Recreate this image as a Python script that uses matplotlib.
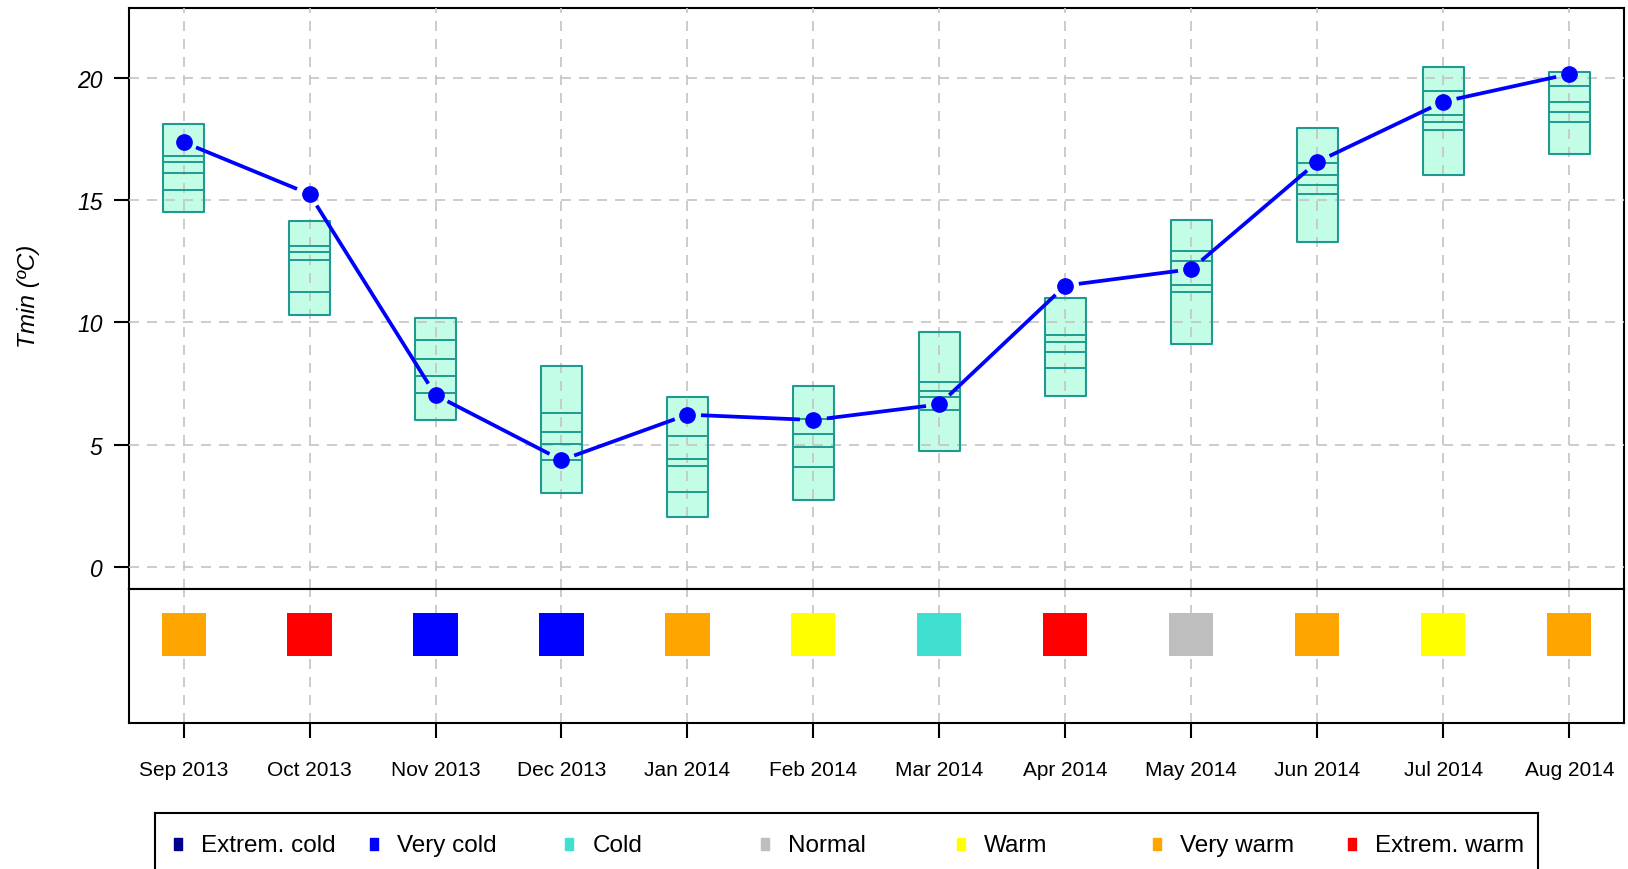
"""
Monthly Tmin with climatological boxes and category strip.
"""
import matplotlib
matplotlib.use("Agg")
import matplotlib.pyplot as plt
from matplotlib.patches import Rectangle
import numpy as np

# --- Data ---
months = ["Sep 2013", "Oct 2013", "Nov 2013", "Dec 2013", "Jan 2014", "Feb 2014",
          "Mar 2014", "Apr 2014", "May 2014", "Jun 2014", "Jul 2014", "Aug 2014"]
tmin = [17.37, 15.25, 7.03, 4.37, 6.23, 6.01, 6.65, 11.51, 12.18, 16.57, 19.03, 20.16]
box_low = [14.50, 10.30, 6.02, 3.01, 2.05, 2.75, 4.75, 7.00, 9.12, 13.30, 16.03, 16.89]
box_high = [18.11, 14.16, 10.18, 8.20, 6.94, 7.41, 9.62, 11.00, 14.20, 17.94, 20.43, 20.25]
q1 = [15.41, 11.26, 7.11, 4.38, 3.05, 4.07, 6.42, 8.12, 11.26, 15.25, 17.87, 18.18]
q2 = [16.11, 12.57, 7.80, 5.03, 4.14, 4.89, 6.94, 8.78, 11.54, 15.62, 18.21, 18.59]
q3 = [16.55, 12.87, 8.50, 5.50, 4.41, 5.44, 7.21, 9.19, 12.52, 16.03, 18.48, 19.03]
q4 = [16.82, 13.14, 9.29, 6.28, 5.34, 6.05, 7.55, 9.48, 12.91, 16.52, 19.45, 19.68]
category = ["Very warm", "Extrem. warm", "Very cold", "Very cold", "Very warm", "Warm",
            "Cold", "Extrem. warm", "Normal", "Very warm", "Warm", "Very warm"]

cat_names = ["Extrem. cold", "Very cold", "Cold", "Normal", "Warm", "Very warm", "Extrem. warm"]
cat_colors = ["#00008B", "#0000FF", "#40E0D0", "#BEBEBE", "#FFFF00", "#FFA500", "#FF0000"]
cat_map = dict(zip(cat_names, cat_colors))

FILL = "#c4fde6"
EDGE = "#1f9a90"
BLUE = "#0000FF"
GRID = "#c4c4c4"
W = 1628
H = 870

plt.rcParams.update({
    "font.family": ["Liberation Sans", "DejaVu Sans"],
    "font.size": 15,
})

fig = plt.figure(figsize=(W / 100, H / 100), dpi=100)
left = 129 / W
width = (1624 - 129) / W
ax = fig.add_axes([left, 1 - 589.5 / H, width, (589.5 - 8.5) / H])
ax2 = fig.add_axes([left, 1 - 723.7 / H, width, (723.7 - 589.5) / H])

x = np.arange(len(months))
xlim = (-0.433, 11.434)

# ============================================================
# Upper panel: boxes, quantile lines, Tmin line
# ============================================================
hw = 0.165
for i in x:
    ax.add_patch(Rectangle((i - hw, box_low[i]), 2 * hw, box_high[i] - box_low[i],
                           facecolor=FILL, edgecolor="none", zorder=1))
    ax.add_patch(Rectangle((i - hw, box_low[i]), 2 * hw, box_high[i] - box_low[i],
                           facecolor="none", edgecolor=EDGE, linewidth=1.5,
                           joinstyle="round", zorder=3))
for q in (q1, q2, q3, q4):
    ax.hlines(q, x - hw, x + hw, color=EDGE, linewidth=1.4, zorder=3)

ax.set_xlim(*xlim)
ax.set_ylim(-0.88, 22.88)
ax.set_yticks([0, 5, 10, 15, 20])
ax.set_yticklabels(["0", "5", "10", "15", "20"], fontstyle="italic", fontsize=16.5)
ax.set_xticks(x)
ax.tick_params(axis="x", length=0, labelbottom=False)
ax.tick_params(axis="y", length=11, width=1.5, pad=8)
ax.set_axisbelow(False)
ax.grid(True, color=GRID, linestyle=(0, (6, 4.8)), linewidth=1.2)
for s in ax.spines.values():
    s.set_linewidth(1.5)

# line with gaps around the points (type "b")
fig.canvas.draw()
pts = ax.transData.transform(np.column_stack([x, tmin]))
gap = 13.5
inv = ax.transData.inverted()
for a, b in zip(pts[:-1], pts[1:]):
    d = b - a
    u = d / np.hypot(*d)
    seg = inv.transform(np.array([a + u * gap, b - u * gap]))
    ax.plot(seg[:, 0], seg[:, 1], color=BLUE, linewidth=2.7, solid_capstyle="butt", zorder=4)
ax.plot(x, tmin, "o", color=BLUE, markersize=11, zorder=5)

fig.text(29 / W, 1 - 296 / H, "Tmin (ºC)", rotation=90, fontstyle="italic",
         fontsize=17.5, ha="center", va="center")

# ============================================================
# Lower panel: category squares
# ============================================================
sw = 0.175
for i in x:
    ax2.add_patch(Rectangle((i - sw, 0.497), 2 * sw, 0.323,
                            facecolor=cat_map[category[i]], edgecolor="none", zorder=2))
ax2.set_xlim(*xlim)
ax2.set_ylim(0, 1)
ax2.set_yticks([])
ax2.set_xticks(x)
ax2.set_xticklabels(months)
ax2.tick_params(axis="x", length=10.5, width=1.5, pad=16)
ax2.set_axisbelow(True)
ax2.grid(True, axis="x", color=GRID, linestyle=(0, (6, 4.8)), linewidth=1.2)
for s in ax2.spines.values():
    s.set_linewidth(1.5)

# ============================================================
# Legend box (clipped at the bottom of the figure)
# ============================================================
lx0, lx1, ltop = 155, 1538, 814.3
axl = fig.add_axes([lx0 / W, -0.1, (lx1 - lx0) / W, (H - ltop) / H + 0.1])
axl.set_xlim(lx0, lx1)
axl.set_ylim(H + 0.1 * H, ltop)
axl.set_xticks([])
axl.set_yticks([])
for s in axl.spines.values():
    s.set_linewidth(1.5)
marker = [(-0.6, -1), (0.6, -1), (0.6, 1), (-0.6, 1), (-0.6, -1)]
step = 195.7
for k, (name, col) in enumerate(zip(cat_names, cat_colors)):
    mx = 178 + k * step
    axl.plot([mx], [845], marker=marker, color=col, markersize=9, linestyle="none")
    axl.text(mx + 23, 846, name, fontsize=17.5, ha="left", va="center")

fig.savefig("out.png", dpi=100)
plt.close()
